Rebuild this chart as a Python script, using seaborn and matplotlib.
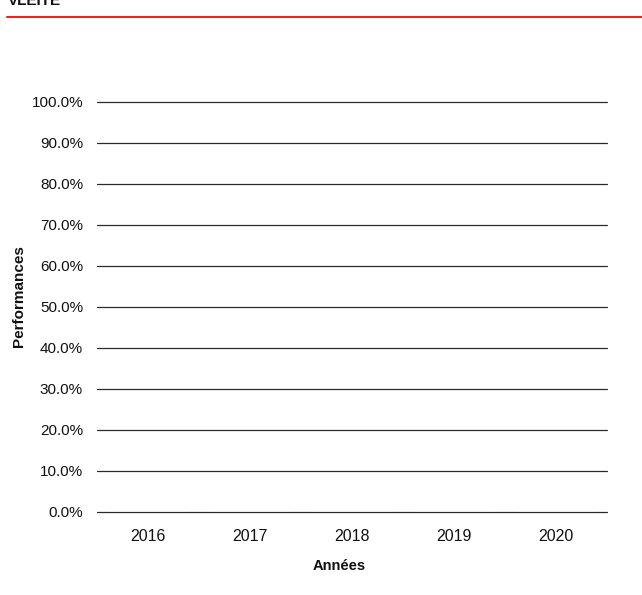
import matplotlib.pyplot as plt
import matplotlib.ticker as mtick
from matplotlib.lines import Line2D
import seaborn as sns
import pandas as pd

# Data (chart is empty: no values reported)
years = ["2016", "2017", "2018", "2019", "2020"]
performances = [0.0, 0.0, 0.0, 0.0, 0.0]
y_ticks = [0.0, 0.1, 0.2, 0.3, 0.4, 0.5, 0.6, 0.7, 0.8, 0.9, 1.0]

sns.set_theme(style="white")
plt.rcParams["font.family"] = ["Liberation Sans", "DejaVu Sans"]

df = pd.DataFrame({"Années": years, "Performances": performances})

fig = plt.figure(figsize=(6.42, 5.95), dpi=100)
ax = fig.add_axes([0.151, 0.1395, 0.794, 0.6891])

sns.barplot(data=df, x="Années", y="Performances", ax=ax, color="#c00000")

ax.set_ylim(0, 1.0)
ax.set_yticks(y_ticks)
ax.yaxis.set_major_formatter(mtick.PercentFormatter(1.0, decimals=1))
for y in y_ticks:
    ax.axhline(y, color="#2a2a2a", linewidth=0.9, zorder=0, clip_on=False)

for side in ["top", "right", "left", "bottom"]:
    ax.spines[side].set_visible(False)
ax.tick_params(axis="both", length=0, colors="#111111")
ax.tick_params(axis="y", pad=10, labelsize=11)
ax.tick_params(axis="x", pad=12, labelsize=11.5)

ax.set_xlabel("Années", fontsize=10.5, fontweight="bold", color="#111111")
ax.xaxis.set_label_coords(0.475, -0.115)
ax.set_ylabel("Performances", fontsize=11, fontweight="bold", color="#111111")
ax.yaxis.set_label_coords(-0.14, 0.527)

# Header: clipped title and red rule
fig.text(0.012, 1 - 5 / 595, "VLEITE", fontsize=11, fontweight="bold",
         va="baseline", ha="left", color="#111111")
fig.add_artist(Line2D([7 / 642, 1.0], [1 - 17 / 595, 1 - 17 / 595],
                      color="#ee2222", linewidth=1.5, transform=fig.transFigure))

plt.savefig("out.png", dpi=100)
plt.close()
